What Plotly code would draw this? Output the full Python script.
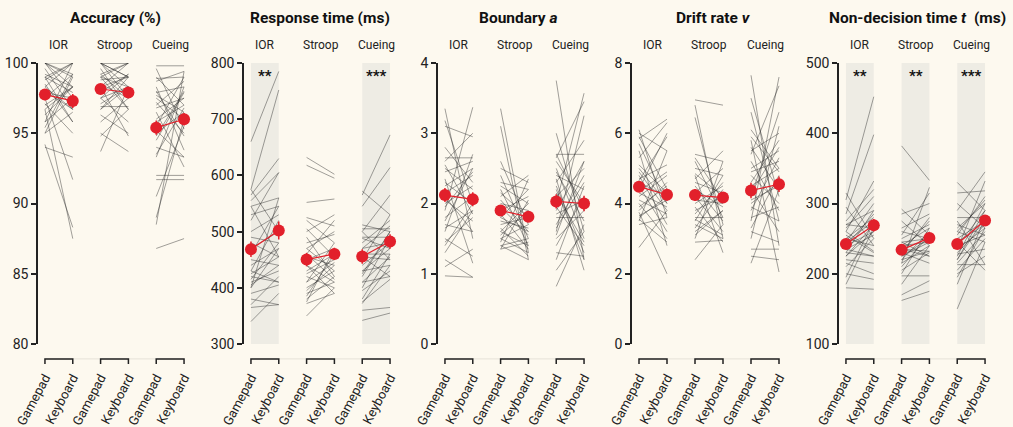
import plotly.graph_objects as go

conditions = ["Gamepad", "Keyboard"]
tasks = ["IOR", "Stroop", "Cueing"]

panel_titles = ["Accuracy (%)", "Response time (ms)", "Boundary <i>a</i>",
                "Drift rate <i>v</i>", "Non-decision time <i>t</i>  (ms)"]
y_ranges = [(80, 100), (300, 800), (0, 4), (0, 8), (100, 500)]
y_ticks = [[80, 85, 90, 95, 100], [300, 400, 500, 600, 700, 800], [0, 1, 2, 3, 4],
           [0, 2, 4, 6, 8], [100, 200, 300, 400, 500]]

# significance stars per panel, per task ("" = n.s.)
stars = [["", "", ""], ["**", "", "***"], ["", "", ""], ["", "", ""], ["**", "**", "***"]]

# ---- Accuracy (%) ----
acc_ior_g = [100, 100, 100, 99.0, 99.0, 98.3, 98.3, 97.5, 97.5, 96.7, 96.7, 95.8, 95.8, 95.0, 95.0,
             94.2, 94.0, 99.2, 98.5, 100, 97.9, 96.3, 99.6, 98.8, 97.1, 100, 95.4, 98.0, 99.0, 97.0]
acc_ior_k = [99.0, 97.5, 100, 100, 95.8, 100, 96.7, 99.2, 91.7, 98.3, 87.5, 100, 97.5, 96.5, 99.0,
             88.3, 93.3, 98.3, 95.8, 99.2, 97.5, 98.3, 96.7, 100, 95.0, 98.3, 99.2, 96.7, 97.9, 98.3]
acc_stroop_g = [100, 100, 100, 99.2, 99.0, 99.0, 98.3, 98.3, 97.5, 97.5, 96.7, 96.7, 95.8, 95.0, 94.8,
                93.7, 100, 99.2, 98.3, 97.5, 96.9, 99.0, 98.5, 100, 97.9, 99.6, 96.3, 98.8, 100, 97.1]
acc_stroop_k = [99.0, 97.5, 100, 100, 98.3, 96.7, 99.0, 100, 99.2, 95.8, 98.3, 99.0, 97.5, 93.7, 96.7,
                98.3, 99.0, 97.5, 94.8, 98.3, 96.9, 100, 97.5, 98.3, 99.2, 96.7, 95.0, 99.0, 100, 98.3]
acc_cueing_g = [99.8, 99.6, 99.0, 98.7, 98.3, 97.9, 97.5, 97.0, 96.5, 96.0, 95.5, 95.0, 94.5, 94.0, 93.3,
                92.0, 91.7, 90.5, 89.0, 88.5, 86.8, 97.2, 95.8, 98.0, 94.8, 96.8, 93.5, 98.9, 95.2, 97.7]
acc_cueing_k = [99.8, 95.3, 97.0, 99.4, 93.8, 98.3, 96.0, 98.7, 92.6, 97.5, 99.0, 96.5, 97.9, 93.3, 98.3,
                92.0, 91.7, 95.5, 96.0, 99.4, 87.5, 95.0, 97.0, 94.8, 98.0, 97.5, 96.8, 99.0, 93.3, 96.5]
acc_means = [97.75, 97.3, 98.15, 97.9, 95.4, 96.0]
acc_sem = [0.4, 0.5, 0.3, 0.35, 0.5, 0.45]

# ---- Response time (ms) ----
rt_ior_g = [660, 575, 565, 555, 545, 530, 520, 500, 490, 480, 470, 460, 450, 440, 430,
            425, 420, 410, 405, 400, 390, 380, 370, 340, 575, 545, 430, 415, 400, 365]
rt_ior_k = [785, 752, 630, 605, 560, 545, 605, 530, 480, 455, 500, 545, 440, 470, 520,
            455, 410, 430, 440, 470, 405, 370, 420, 390, 500, 455, 410, 480, 560, 370]
rt_stroop_g = [632, 618, 552, 525, 520, 500, 490, 480, 470, 460, 455, 450, 440, 430, 425,
               420, 410, 400, 395, 390, 380, 375, 372, 350, 470, 505, 440, 410, 385, 460]
rt_stroop_k = [602, 595, 558, 510, 480, 530, 420, 495, 430, 520, 440, 470, 410, 460, 450,
               400, 480, 430, 440, 410, 420, 470, 390, 400, 500, 455, 390, 445, 460, 415]
rt_cueing_g = [572, 565, 545, 512, 505, 500, 490, 488, 480, 470, 460, 455, 450, 440, 430,
               425, 410, 400, 380, 375, 372, 360, 342, 500, 470, 430, 410, 395, 455, 420]
rt_cueing_k = [530, 672, 614, 500, 505, 565, 490, 470, 520, 480, 460, 450, 530, 480, 440,
               500, 420, 490, 460, 415, 440, 365, 355, 450, 510, 470, 455, 430, 420, 500]
rt_means = [468.6, 501.9, 450.2, 460.3, 455.6, 482.3]
rt_sem = [14, 16, 12, 11, 13, 13]

# ---- Boundary a ----
bnd_ior_g = [3.35, 3.18, 3.1, 2.65, 2.6, 2.55, 2.45, 2.35, 2.25, 2.15, 2.05, 2.0, 1.9, 1.8, 1.7,
             1.6, 1.5, 1.4, 1.3, 1.2, 1.1, 0.97, 2.3, 1.75, 2.1, 2.5, 1.95, 1.65, 2.8, 1.45]
bnd_ior_k = [1.5, 2.0, 2.95, 2.65, 3.0, 1.85, 2.6, 1.15, 2.5, 2.4, 1.75, 2.25, 3.37, 2.1, 1.6,
             2.7, 1.25, 2.0, 1.9, 0.95, 1.35, 0.95, 2.0, 2.5, 1.6, 2.2, 2.45, 1.9, 2.3, 1.8]
bnd_stroop_g = [3.35, 3.1, 2.6, 2.5, 2.4, 2.3, 2.2, 2.1, 2.05, 2.0, 1.9, 1.85, 1.8, 1.7, 1.65,
                1.6, 1.5, 1.45, 1.4, 1.35, 1.55, 1.75, 2.15, 1.35, 1.95, 1.5, 2.25, 1.6, 1.8, 1.4]
bnd_stroop_k = [1.3, 1.2, 1.7, 2.3, 1.5, 2.2, 1.4, 2.4, 1.6, 1.9, 2.1, 1.35, 2.2, 1.8, 1.25,
                2.0, 1.7, 2.35, 1.5, 1.45, 1.9, 1.65, 1.8, 2.05, 1.55, 1.3, 2.0, 1.4, 1.6, 1.2]
bnd_cueing_g = [3.75, 3.0, 2.7, 2.65, 2.5, 2.4, 2.35, 2.3, 2.25, 2.1, 2.0, 1.95, 1.9, 1.8, 1.7,
                1.6, 1.5, 1.4, 1.3, 1.2, 1.05, 0.82, 2.6, 2.2, 1.85, 2.45, 1.65, 2.15, 2.7, 1.55]
bnd_cueing_k = [1.2, 1.6, 2.7, 3.45, 1.5, 2.2, 1.05, 2.9, 1.3, 2.5, 3.57, 1.4, 2.6, 1.8, 2.4,
                3.25, 1.9, 2.1, 1.25, 2.25, 1.6, 1.7, 2.0, 1.2, 2.05, 1.75, 2.3, 1.45, 1.9, 2.6]
bnd_means = [2.12, 2.06, 1.90, 1.81, 2.03, 2.0]
bnd_sem = [0.1, 0.1, 0.07, 0.06, 0.1, 0.11]

# ---- Drift rate v ----
drf_ior_g = [6.1, 6.0, 5.85, 5.7, 5.5, 5.3, 5.1, 4.9, 4.7, 4.6, 4.5, 4.4, 4.2, 4.0, 3.9,
             3.75, 3.6, 3.5, 3.4, 2.75, 4.8, 5.0, 3.8, 4.3, 3.55, 4.65, 5.9, 4.1, 3.65, 4.35]
drf_ior_k = [3.6, 5.5, 6.4, 4.0, 2.8, 6.3, 4.3, 3.8, 5.1, 4.2, 3.2, 6.0, 4.8, 3.0, 4.5,
             2.0, 4.2, 5.5, 3.6, 3.8, 3.4, 4.0, 4.6, 3.9, 2.9, 5.9, 4.4, 3.7, 4.1, 4.9]
drf_stroop_g = [6.95, 6.8, 6.45, 5.4, 5.3, 5.2, 5.0, 4.8, 4.7, 4.6, 4.4, 4.3, 4.2, 4.0, 3.9,
                3.8, 3.6, 3.5, 3.4, 3.3, 3.2, 3.0, 2.9, 2.4, 4.1, 3.7, 4.5, 3.1, 4.85, 3.55]
drf_stroop_k = [6.8, 3.0, 3.4, 5.2, 4.1, 3.6, 4.8, 2.6, 5.5, 4.3, 3.9, 5.0, 3.2, 4.5, 2.9,
                4.2, 3.6, 4.8, 3.0, 4.4, 3.8, 5.2, 2.95, 3.4, 4.0, 4.6, 3.5, 3.8, 4.2, 3.1]
drf_cueing_g = [7.65, 7.0, 6.6, 6.1, 5.8, 5.6, 5.4, 5.2, 5.0, 4.8, 4.6, 4.4, 4.2, 4.0, 3.8,
                3.5, 3.3, 3.0, 2.7, 2.5, 2.3, 4.5, 3.9, 5.5, 4.1, 3.6, 4.9, 3.2, 5.9, 4.3]
drf_cueing_k = [2.8, 4.2, 3.5, 5.0, 2.05, 4.4, 7.35, 3.8, 5.5, 4.0, 5.8, 3.2, 6.6, 4.6, 5.3,
                7.6, 4.8, 6.2, 2.7, 2.4, 4.4, 5.0, 3.5, 6.0, 4.5, 3.9, 5.2, 2.9, 4.9, 5.6]
drf_means = [4.48, 4.25, 4.24, 4.17, 4.37, 4.55]
drf_sem = [0.15, 0.17, 0.17, 0.13, 0.22, 0.22]

# ---- Non-decision time t (ms) ----
ndt_ior_g = [315, 305, 295, 285, 275, 270, 265, 260, 255, 250, 245, 240, 235, 230, 225,
             220, 210, 200, 195, 185, 180, 260, 240, 230, 250, 225, 215, 270, 245, 235]
ndt_ior_k = [250, 452, 240, 398, 320, 265, 310, 332, 230, 280, 300, 260, 225, 290, 270,
             215, 250, 192, 275, 265, 178, 232, 285, 225, 240, 260, 200, 290, 275, 255]
ndt_stroop_g = [382, 292, 285, 275, 265, 255, 245, 240, 235, 232, 225, 220, 215, 210, 197,
                185, 170, 162, 250, 230, 220, 240, 205, 260, 228, 215, 245, 225, 200, 235]
ndt_stroop_k = [333, 255, 300, 240, 285, 315, 250, 265, 225, 275, 245, 232, 323, 255, 197,
                240, 190, 175, 270, 215, 260, 245, 230, 250, 280, 240, 225, 250, 265, 232]
ndt_cueing_g = [330, 315, 300, 290, 280, 275, 265, 255, 245, 240, 235, 228, 220, 213, 200,
                185, 150, 260, 250, 235, 225, 215, 270, 245, 205, 240, 230, 260, 220, 195]
ndt_cueing_k = [290, 318, 265, 345, 280, 213, 300, 310, 270, 255, 332, 235, 290, 213, 225,
                280, 245, 305, 275, 265, 300, 260, 255, 205, 250, 290, 270, 245, 280, 265]
ndt_means = [242.4, 269.0, 234.0, 251.0, 242.4, 275.7]
ndt_sem = [7, 9, 7, 6, 7, 7]

panel_pairs = [
    [(acc_ior_g, acc_ior_k), (acc_stroop_g, acc_stroop_k), (acc_cueing_g, acc_cueing_k)],
    [(rt_ior_g, rt_ior_k), (rt_stroop_g, rt_stroop_k), (rt_cueing_g, rt_cueing_k)],
    [(bnd_ior_g, bnd_ior_k), (bnd_stroop_g, bnd_stroop_k), (bnd_cueing_g, bnd_cueing_k)],
    [(drf_ior_g, drf_ior_k), (drf_stroop_g, drf_stroop_k), (drf_cueing_g, drf_cueing_k)],
    [(ndt_ior_g, ndt_ior_k), (ndt_stroop_g, ndt_stroop_k), (ndt_cueing_g, ndt_cueing_k)],
]
panel_means = [acc_means, rt_means, bnd_means, drf_means, ndt_means]
panel_sem = [acc_sem, rt_sem, bnd_sem, drf_sem, ndt_sem]

# layout in pixels (figure is 1013 x 427)
W, H = 1013, 427
x_px = [(38, 191), (244, 397), (438, 591), (632, 786), (839, 992)]
title_px = [115, 320, 518, 713, 917]
y_dom = [(H - 344) / H, (H - 63) / H]
x_range = (-0.25, 5.25)

BG = "#FDF9EF"
SHADE = "#EEECE4"
RED = "#E2202B"
INK = "#222222"
FONT = "Roboto"


def xdom(v):
    # data x position -> fraction of the x domain
    return (v - x_range[0]) / (x_range[1] - x_range[0])


fig = go.Figure()
shapes = []
annotations = []

for p in range(5):
    n = "" if p == 0 else str(p + 1)
    xa, ya = "x" + n, "y" + n

    # individual participants, one line each
    for t, (g_vals, k_vals) in enumerate(panel_pairs[p]):
        xs, ys = [], []
        for g, k in zip(g_vals, k_vals):
            xs += [2 * t, 2 * t + 1, None]
            ys += [g, k, None]
        fig.add_trace(go.Scatter(x=xs, y=ys, mode="lines", xaxis=xa, yaxis=ya,
                                 line=dict(color="rgba(40,40,40,0.55)", width=0.8),
                                 hoverinfo="skip", showlegend=False))

    # group means with error bars
    for t in range(3):
        m = panel_means[p][2 * t:2 * t + 2]
        s = panel_sem[p][2 * t:2 * t + 2]
        fig.add_trace(go.Scatter(x=[2 * t, 2 * t + 1], y=m, mode="lines+markers",
                                 xaxis=xa, yaxis=ya,
                                 line=dict(color=RED, width=1.2),
                                 marker=dict(color=RED, size=12),
                                 error_y=dict(type="data", array=s, color=RED, thickness=1.5, width=0),
                                 showlegend=False))

    fig.layout["xaxis" + n] = dict(domain=[x_px[p][0] / W, x_px[p][1] / W], range=list(x_range),
                                   anchor=ya, tickvals=list(range(6)), ticktext=conditions * 3,
                                   tickangle=-62, ticks="outside", ticklen=20,
                                   tickcolor="rgba(0,0,0,0)", showline=False, showgrid=False,
                                   zeroline=False, tickfont=dict(size=13, color=INK, family=FONT),
                                   automargin=False, fixedrange=True)
    fig.layout["yaxis" + n] = dict(domain=y_dom, range=list(y_ranges[p]), anchor=xa,
                                   tickvals=y_ticks[p], ticks="outside", ticklen=5, tickwidth=1.5,
                                   tickcolor=INK, showline=True, linecolor=INK, linewidth=1.5,
                                   showgrid=False, zeroline=False,
                                   tickfont=dict(size=14, color=INK, family=FONT),
                                   automargin=False, fixedrange=True)

    xd, yd = xa + " domain", ya + " domain"

    # faint baseline behind the brackets
    shapes.append(dict(type="line", xref=xd, yref=yd, x0=xdom(0), x1=xdom(5), y0=-0.053, y1=-0.053,
                       line=dict(color="#E6E2D8", width=1), layer="below"))
    for t in range(3):
        # shaded band for significant contrasts
        if stars[p][t]:
            shapes.append(dict(type="rect", xref=xd, yref=yd, x0=xdom(2 * t), x1=xdom(2 * t + 1),
                               y0=0, y1=1, fillcolor=SHADE, line=dict(width=0), layer="below"))
            annotations.append(dict(text="<b>" + stars[p][t] + "</b>", xref=xa, yref=yd,
                                    x=2 * t + 0.5, y=0.952, xanchor="center", yanchor="middle",
                                    showarrow=False, font=dict(size=15, color="#111111", family=FONT)))
        # bracket under each pair
        a, b = xdom(2 * t), xdom(2 * t + 1)
        shapes.append(dict(type="path", xref=xd, yref=yd,
                           path=f"M {a},-0.071 L {a},-0.053 L {b},-0.053 L {b},-0.071",
                           line=dict(color=INK, width=1.5)))
        annotations.append(dict(text=tasks[t], xref=xa, yref="paper", x=2 * t + 0.5,
                                y=(H - 45) / H, xanchor="center", yanchor="middle", showarrow=False,
                                font=dict(size=12, color=INK, family=FONT)))

    annotations.append(dict(text="<b>" + panel_titles[p] + "</b>", xref="paper", yref="paper",
                            x=title_px[p] / W, y=(H - 18) / H, xanchor="center", yanchor="middle",
                            showarrow=False, font=dict(size=15.5, color="#111111", family=FONT)))

fig.update_layout(width=W, height=H, margin=dict(l=0, r=0, t=0, b=0),
                  paper_bgcolor=BG, plot_bgcolor=BG, shapes=shapes, annotations=annotations,
                  font=dict(family=FONT, color=INK))

# page has a default 8px body margin; drop it so the figure fills the window
fig.write_html("out.html", config={"displayModeBar": False},
               post_script="document.body.style.margin = '0px';")
